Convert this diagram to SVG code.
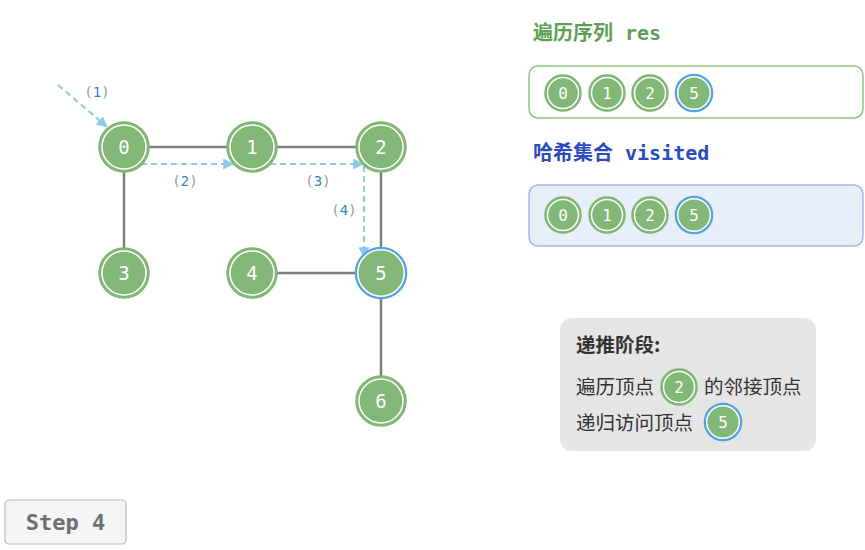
<svg xmlns="http://www.w3.org/2000/svg" width="865" height="550" viewBox="0 0 865 550">
<defs>
<style>
.edge{stroke:#7f7f7f;stroke-width:2.5;fill:none}
.dash{stroke:#8ccaf0;stroke-width:2.2;fill:none;stroke-dasharray:6 4}
.nb{fill:#82b777;stroke:#7db770;stroke-width:1.5}
.ring{fill:none;stroke:#ffffff;stroke-width:1.5}
.blue{fill:none;stroke:#4fa3e6;stroke-width:2.6}
.nt{font-family:"DejaVu Sans Mono",monospace;font-size:19px;fill:#ffffff;text-anchor:middle;dominant-baseline:central}
.st{font-family:"DejaVu Sans Mono",monospace;font-size:16px;fill:#ffffff;text-anchor:middle;dominant-baseline:central}
.lbl{font-family:"DejaVu Sans Mono",monospace;font-size:14px;text-anchor:middle;fill:#2f87c8}
.par{fill:#9a9a9a}
.cn{font-family:"Noto Sans CJK SC",sans-serif;font-size:19.5px;fill:#333333}
.ttl{font-family:"DejaVu Sans Mono","Noto Sans CJK SC",monospace;font-size:20px;font-weight:bold}
</style>
<marker id="ah" viewBox="0 0 10 10" refX="8" refY="5" markerWidth="5" markerHeight="5" orient="auto"><path d="M0,0 L10,5 L0,10 z" fill="#8ccaf0"/></marker>
</defs>
<rect width="865" height="550" fill="#ffffff"/>
<g id="connectors">
<line class="edge" x1="124" y1="147" x2="252" y2="147"/>
<line class="edge" x1="252" y1="147" x2="381" y2="147"/>
<line class="edge" x1="124" y1="147" x2="124" y2="273"/>
<line class="edge" x1="381" y1="147" x2="381" y2="273"/>
<line class="edge" x1="252" y1="273" x2="381" y2="273"/>
<line class="edge" x1="381" y1="273" x2="381" y2="401"/>
<path class="dash" d="M58,85 L106,126" marker-end="url(#ah)"/>
<path class="dash" d="M141,164 L232,164" marker-end="url(#ah)"/>
<path class="dash" d="M270,164 L362,164" marker-end="url(#ah)"/>
<path class="dash" d="M364,166 L364,256" marker-end="url(#ah)"/>
<text class="lbl" x="97" y="97"><tspan class="par">(</tspan>1<tspan class="par">)</tspan></text>
<text class="lbl" x="185" y="186"><tspan class="par">(</tspan>2<tspan class="par">)</tspan></text>
<text class="lbl" x="318" y="186"><tspan class="par">(</tspan>3<tspan class="par">)</tspan></text>
<text class="lbl" x="344" y="215"><tspan class="par">(</tspan>4<tspan class="par">)</tspan></text>
</g>
<g id="node0"><circle class="nb" cx="124" cy="147" r="25"/><circle class="ring" cx="124" cy="147" r="22"/><text class="nt" x="124" y="147">0</text></g>
<g id="node1"><circle class="nb" cx="252" cy="147" r="25"/><circle class="ring" cx="252" cy="147" r="22"/><text class="nt" x="252" y="147">1</text></g>
<g id="node2"><circle class="nb" cx="381" cy="147" r="25"/><circle class="ring" cx="381" cy="147" r="22"/><text class="nt" x="381" y="147">2</text></g>
<g id="node3"><circle class="nb" cx="124" cy="273" r="25"/><circle class="ring" cx="124" cy="273" r="22"/><text class="nt" x="124" y="273">3</text></g>
<g id="node4"><circle class="nb" cx="252" cy="273" r="25"/><circle class="ring" cx="252" cy="273" r="22"/><text class="nt" x="252" y="273">4</text></g>
<g id="node5"><circle class="nb" cx="381" cy="273" r="23"/><circle class="blue" cx="381" cy="273" r="25"/><circle class="ring" cx="381" cy="273" r="23.2"/><text class="nt" x="381" y="273">5</text></g>
<g id="node6"><circle class="nb" cx="381" cy="401" r="25"/><circle class="ring" cx="381" cy="401" r="22"/><text class="nt" x="381" y="401">6</text></g>

<g id="res">
<text class="ttl" x="533" y="40" fill="#5c9f55">遍历序列 res</text>
<rect x="529" y="66" width="334" height="52" rx="9" fill="#ffffff" stroke="#8fc485" stroke-width="1.5"/>
<circle class="nb" cx="563" cy="93" r="18"/><circle class="ring" cx="563" cy="93" r="15.5"/><text class="st" x="563" y="93">0</text>
<circle class="nb" cx="607" cy="93" r="18"/><circle class="ring" cx="607" cy="93" r="15.5"/><text class="st" x="607" y="93">1</text>
<circle class="nb" cx="650" cy="93" r="18"/><circle class="ring" cx="650" cy="93" r="15.5"/><text class="st" x="650" y="93">2</text>
<circle class="nb" cx="694" cy="93" r="16.5"/><circle class="blue" cx="694" cy="93" r="18"/><circle class="ring" cx="694" cy="93" r="16.3"/><text class="st" x="694" y="93">5</text>
</g>
<g id="visited">
<text class="ttl" x="533" y="160" fill="#2a4cbf">哈希集合 visited</text>
<rect x="529" y="185" width="334" height="61" rx="9" fill="#e9eefb" stroke="#a8b8e8" stroke-width="1.5"/>
<circle class="nb" cx="563" cy="215" r="18"/><circle class="ring" cx="563" cy="215" r="15.5"/><text class="st" x="563" y="215">0</text>
<circle class="nb" cx="607" cy="215" r="18"/><circle class="ring" cx="607" cy="215" r="15.5"/><text class="st" x="607" y="215">1</text>
<circle class="nb" cx="650" cy="215" r="18"/><circle class="ring" cx="650" cy="215" r="15.5"/><text class="st" x="650" y="215">2</text>
<circle class="nb" cx="694" cy="215" r="16.5"/><circle class="blue" cx="694" cy="215" r="18"/><circle class="ring" cx="694" cy="215" r="16.3"/><text class="st" x="694" y="215">5</text>
</g>
<g id="legend">
<rect x="560" y="318" width="256" height="133" rx="12" fill="#e5e5e5"/>
<text class="cn" x="576" y="352" font-weight="bold">递推阶段:</text>
<text class="cn" x="576" y="394">遍历顶点</text>
<circle class="nb" cx="679" cy="387" r="18"/><circle class="ring" cx="679" cy="387" r="15.5"/><text class="st" x="679" y="387">2</text>
<text class="cn" x="704" y="394">的邻接顶点</text>
<text class="cn" x="576" y="430">递归访问顶点</text>
<circle class="nb" cx="723" cy="422" r="16.5"/><circle class="blue" cx="723" cy="422" r="18"/><circle class="ring" cx="723" cy="422" r="16.3"/><text class="st" x="723" y="422">5</text>
</g>
<g id="step">
<rect x="5" y="500" width="121" height="44" rx="4" fill="#f5f5f5" stroke="#bcbcbc" stroke-width="1.2"/>
<text x="65.5" y="530" font-family="'DejaVu Sans Mono',monospace" font-size="22" font-weight="bold" fill="#6f6f6f" text-anchor="middle">Step 4</text>
</g>
</svg>
